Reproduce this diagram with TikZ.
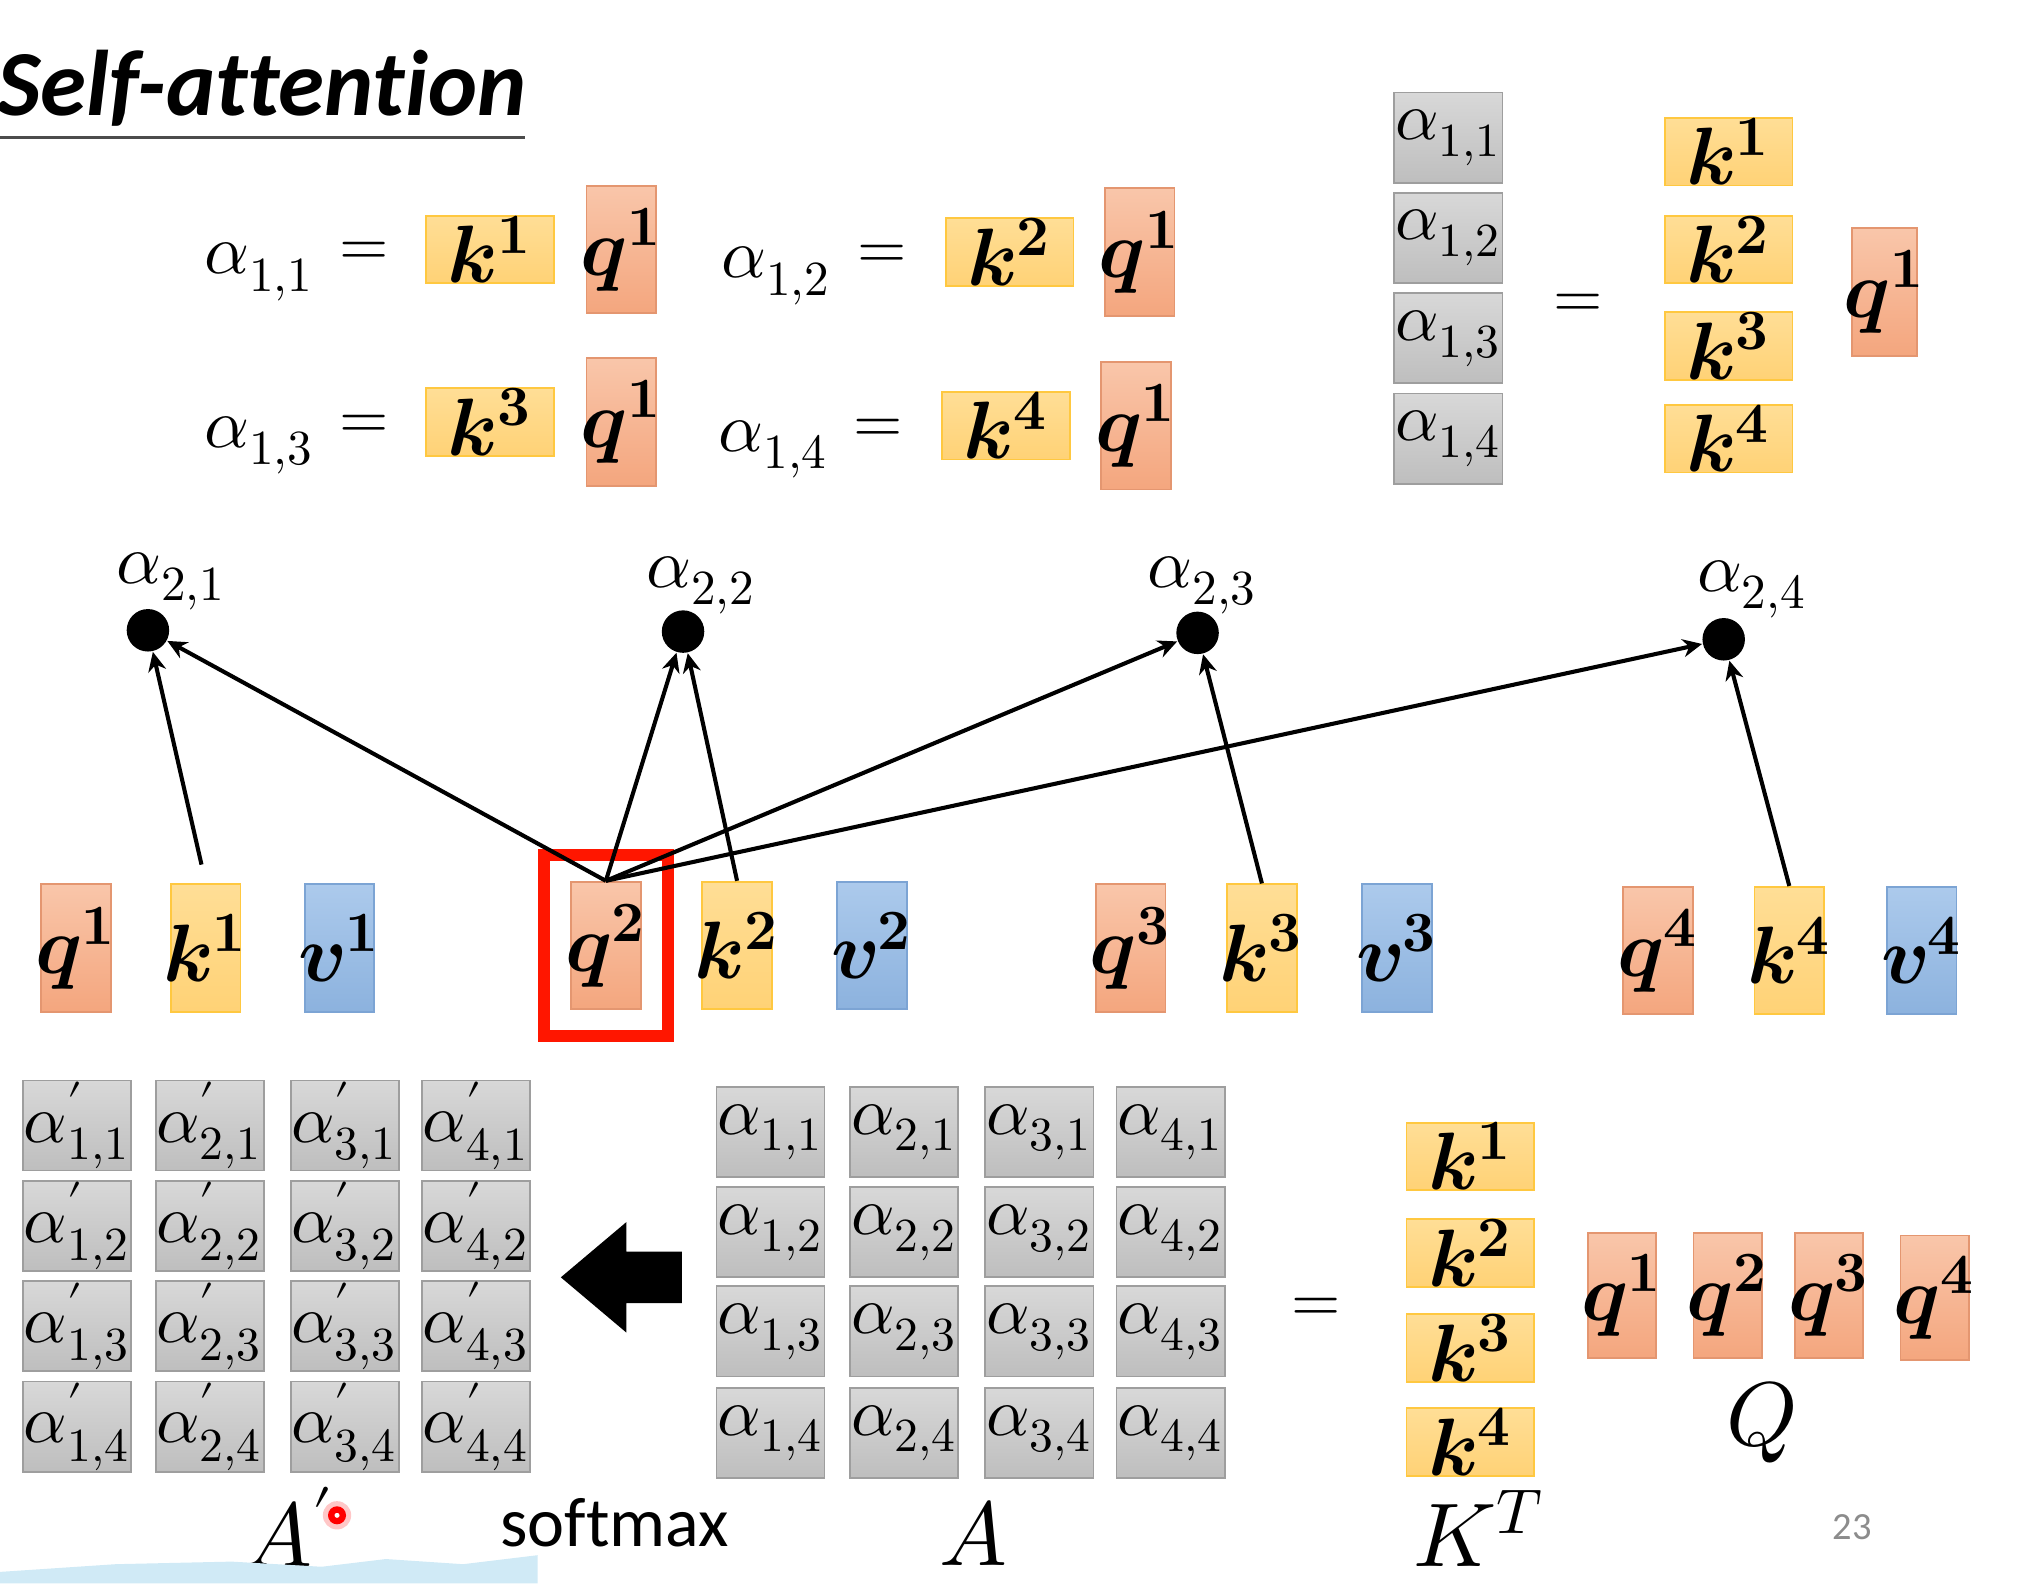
\documentclass[tikz,border=0pt]{standalone}
\usepackage{amsmath}
\usepackage{fontspec}
\usepackage{unicode-math}
\setmathfont{Latin Modern Math}
\newfontfamily\carlito[Ligatures={NoCommon}]{Carlito}
\usetikzlibrary{arrows.meta,positioning}
\definecolor{qtop}{RGB}{249,198,170}
\definecolor{qbot}{RGB}{244,166,126}
\definecolor{qline}{RGB}{228,150,112}
\definecolor{ktop}{RGB}{255,222,150}
\definecolor{kbot}{RGB}{255,210,118}
\definecolor{kline}{RGB}{255,200,64}
\definecolor{vtop}{RGB}{172,202,236}
\definecolor{vbot}{RGB}{140,178,222}
\definecolor{vline}{RGB}{124,164,212}
\definecolor{atop}{RGB}{216,216,216}
\definecolor{abot}{RGB}{190,190,190}
\definecolor{aline}{RGB}{158,158,158}
\definecolor{hilite}{RGB}{255,22,0}
\definecolor{bandblue}{RGB}{208,234,246}
\newcommand{\qvec}[1]{\makebox[0pt]{$\symbfit{q}^{\symbf{#1}}$}}
\newcommand{\kvec}[1]{\makebox[0pt]{$\symbfit{k}^{\symbf{#1}}$}}
\newcommand{\vvec}[1]{\makebox[0pt]{$\symbfit{v}^{\symbf{#1}}$}}
\newcommand{\att}[2]{$\alpha_{#1,#2}$}
\newcommand{\attp}[2]{$\alpha'_{#1,#2}$}

\begin{document}
\begin{tikzpicture}[x=0.01cm,y=-0.01cm,
    vec/.style={inner sep=0pt,minimum width=0.54cm,minimum height=0.99cm,
                font=\fontsize{18}{22}\selectfont},
    qbox/.style={vec,top color=qtop,bottom color=qbot,draw=qline},
    kbox/.style={vec,top color=ktop,bottom color=kbot,draw=kline},
    vbox/.style={vec,top color=vtop,bottom color=vbot,draw=vline},
    kwide/.style={kbox,minimum width=0.99cm,minimum height=0.52cm},
    abox/.style={inner sep=0pt,minimum width=0.84cm,minimum height=0.70cm,
                 top color=atop,bottom color=abot,draw=aline,font=\fontsize{15}{18}\selectfont},
    lab/.style={inner sep=0pt,font=\fontsize{15.5}{18}\selectfont},
    eq/.style={inner sep=0pt,font=\fontsize{14}{17}\selectfont},
    big/.style={inner sep=0pt,font=\fontsize{20}{24}\selectfont},
    dot/.style={circle,fill=black,inner sep=0pt,minimum size=0.33cm},
    arr/.style={-{Stealth[length=1.5mm,width=1.4mm]},line width=0.9pt}]
  \useasboundingbox (0,0) rectangle (1568,1231);
  % title
  \node[anchor=base west,inner sep=0pt,font=\carlito\bfseries\itshape\fontsize{20.6}{25}\selectfont]
       (title) at (-3,90) {Self-attention};
  \draw[line width=0.7pt,black!70] (0,107) -- (408,107);

  % single products
  \node[lab,anchor=base west] (e11) at (158,213) {\att{1}{1}};
  \node[eq] (s11) at (283,197) {$=$};
  \node[kwide] (e11k) at (381,194) {\kvec{1}};
  \node[qbox] (e11q) at (483,194) {\qvec{1}};
  \node[lab,anchor=base west] (e12) at (560,216) {\att{1}{2}};
  \node[eq] (s12) at (686,200) {$=$};
  \node[kwide] (e12k) at (785,196) {\kvec{2}};
  \node[qbox] (e12q) at (886,196) {\qvec{1}};
  \node[lab,anchor=base west] (e13) at (158,348) {\att{1}{3}};
  \node[eq] (s13) at (283,332) {$=$};
  \node[kwide] (e13k) at (381,328) {\kvec{3}};
  \node[qbox] (e13q) at (483,328) {\qvec{1}};
  \node[lab,anchor=base west] (e14) at (558,351) {\att{1}{4}};
  \node[eq] (s14) at (683,335) {$=$};
  \node[kwide] (e14k) at (782,331) {\kvec{4}};
  \node[qbox] (e14q) at (883,331) {\qvec{1}};

  % column form
  \node[abox] (c1) at (1126,107) {\att{1}{1}};
  \node[abox] (c2) at (1126,185) {\att{1}{2}};
  \node[abox] (c3) at (1126,263) {\att{1}{3}};
  \node[abox] (c4) at (1126,341) {\att{1}{4}};
  \node[eq] (ceq) at (1227,238) {$=$};
  \node[kwide] (ck1) at (1344,118) {\kvec{1}};
  \node[kwide] (ck2) at (1344,194) {\kvec{2}};
  \node[kwide] (ck3) at (1344,269) {\kvec{3}};
  \node[kwide] (ck4) at (1344,341) {\kvec{4}};
  \node[qbox,minimum width=0.50cm] (cq) at (1465,227) {\qvec{1}};

  % scores of q^2
  \node[dot] (a21) at (115,490) {};
  \node[dot] (a22) at (531,491) {};
  \node[dot] (a23) at (931,492) {};
  \node[dot] (a24) at (1340,497) {};
  \node[lab] (l21) at (133,452) {\att{2}{1}};
  \node[lab] (l22) at (545,455) {\att{2}{2}};
  \node[lab] (l23) at (935,455) {\att{2}{3}};
  \node[lab] (l24) at (1362,458) {\att{2}{4}};

  % q k v row
  \node[qbox] (q1) at (59,737) {\qvec{1}};
  \node[kbox] (k1) at (160,737) {\kvec{1}};
  \node[vbox] (v1) at (264,737) {\vvec{1}};
  \node[qbox] (q2) at (471,735) {\qvec{2}};
  \node[kbox] (k2) at (573,735) {\kvec{2}};
  \node[vbox] (v2) at (678,735) {\vvec{2}};
  \node[qbox] (q3) at (879,737) {\qvec{3}};
  \node[kbox] (k3) at (981,737) {\kvec{3}};
  \node[vbox] (v3) at (1086,737) {\vvec{3}};
  \node[qbox] (q4) at (1289,739) {\qvec{4}};
  \node[kbox] (k4) at (1391,739) {\kvec{4}};
  \node[vbox] (v4) at (1494,739) {\vvec{4}};
  \node[draw=hilite,line width=2.6pt,minimum width=0.96cm,minimum height=1.41cm] (mark) at (q2) {};

  \draw[arr,shorten <=0.15cm] (k1.north) -- (a21); \draw[arr] (q2.north) -- (a21);
  \draw[arr] (q2.north) -- (a22); \draw[arr] (k2.north) -- (a22);
  \draw[arr] (q2.north) -- (a23); \draw[arr] (k3.north) -- (a23);
  \draw[arr] (q2.north) -- (a24); \draw[arr] (k4.north) -- (a24);

  % A' after softmax
  \node[abox] (p11) at (60,875)  {\attp{1}{1}}; \node[abox] (p21) at (163,875)  {\attp{2}{1}};
  \node[abox] (p31) at (268,875) {\attp{3}{1}}; \node[abox] (p41) at (370,875)  {\attp{4}{1}};
  \node[abox] (p12) at (60,953)  {\attp{1}{2}}; \node[abox] (p22) at (163,953)  {\attp{2}{2}};
  \node[abox] (p32) at (268,953) {\attp{3}{2}}; \node[abox] (p42) at (370,953)  {\attp{4}{2}};
  \node[abox] (p13) at (60,1031) {\attp{1}{3}}; \node[abox] (p23) at (163,1031) {\attp{2}{3}};
  \node[abox] (p33) at (268,1031){\attp{3}{3}}; \node[abox] (p43) at (370,1031) {\attp{4}{3}};
  \node[abox] (p14) at (60,1109) {\attp{1}{4}}; \node[abox] (p24) at (163,1109) {\attp{2}{4}};
  \node[abox] (p34) at (268,1109){\attp{3}{4}}; \node[abox] (p44) at (370,1109) {\attp{4}{4}};

  % A
  \node[abox] (m11) at (599,880)  {\att{1}{1}}; \node[abox] (m21) at (703,880)  {\att{2}{1}};
  \node[abox] (m31) at (808,880)  {\att{3}{1}}; \node[abox] (m41) at (910,880)  {\att{4}{1}};
  \node[abox] (m12) at (599,958)  {\att{1}{2}}; \node[abox] (m22) at (703,958)  {\att{2}{2}};
  \node[abox] (m32) at (808,958)  {\att{3}{2}}; \node[abox] (m42) at (910,958)  {\att{4}{2}};
  \node[abox] (m13) at (599,1035) {\att{1}{3}}; \node[abox] (m23) at (703,1035) {\att{2}{3}};
  \node[abox] (m33) at (808,1035) {\att{3}{3}}; \node[abox] (m43) at (910,1035) {\att{4}{3}};
  \node[abox] (m14) at (599,1114) {\att{1}{4}}; \node[abox] (m24) at (703,1114) {\att{2}{4}};
  \node[abox] (m34) at (808,1114) {\att{3}{4}}; \node[abox] (m44) at (910,1114) {\att{4}{4}};

  \fill (436,993) -- (487,950) -- (487,973) -- (530,973) -- (530,1013) -- (487,1013) -- (487,1036) -- cycle;

  % K^T and Q
  \node[eq] (meq) at (1023,1018) {$=$};
  \node[kwide] (t1) at (1143,899)  {\kvec{1}};
  \node[kwide] (t2) at (1143,974)  {\kvec{2}};
  \node[kwide] (t3) at (1143,1048) {\kvec{3}};
  \node[kwide] (t4) at (1143,1121) {\kvec{4}};
  \node[qbox,minimum width=0.53cm,minimum height=0.97cm] (Q1) at (1261,1007) {\qvec{1}};
  \node[qbox,minimum width=0.53cm,minimum height=0.97cm] (Q2) at (1343,1007) {\qvec{2}};
  \node[qbox,minimum width=0.53cm,minimum height=0.97cm] (Q3) at (1422,1007) {\qvec{3}};
  \node[qbox,minimum width=0.53cm,minimum height=0.97cm] (Q4) at (1504,1009) {\qvec{4}};

  % matrix names
  \node[big] (nAp) at (225,1187) {$A'$};
  \node[circle,fill=red!22,minimum size=0.22cm,inner sep=0pt] (glow) at (262,1178) {};
  \node[circle,draw=red,fill=white,line width=1.4pt,minimum size=0.09cm,inner sep=0pt] (ptr) at (262,1178) {};
  \node[inner sep=0pt,font=\carlito\fontsize{15.5}{18}\selectfont] (smx) at (478,1184) {softmax};
  \node[big] (nA) at (757,1192) {$A$};
  \node[big] (nK) at (1150,1188) {$K^T$};
  \node[big] (nQ) at (1370,1106) {$Q$};
  \node[inner sep=0pt,font=\carlito\fontsize{8.5}{10}\selectfont,text=black!45] (page) at (1440,1187) {23};

  \fill[bandblue] (0,1231) -- (0,1222) -- (90,1216) -- (180,1214) -- (250,1218) -- (300,1212)
       -- (360,1216) -- (418,1209) -- (418,1231) -- cycle;
\end{tikzpicture}
\end{document}
